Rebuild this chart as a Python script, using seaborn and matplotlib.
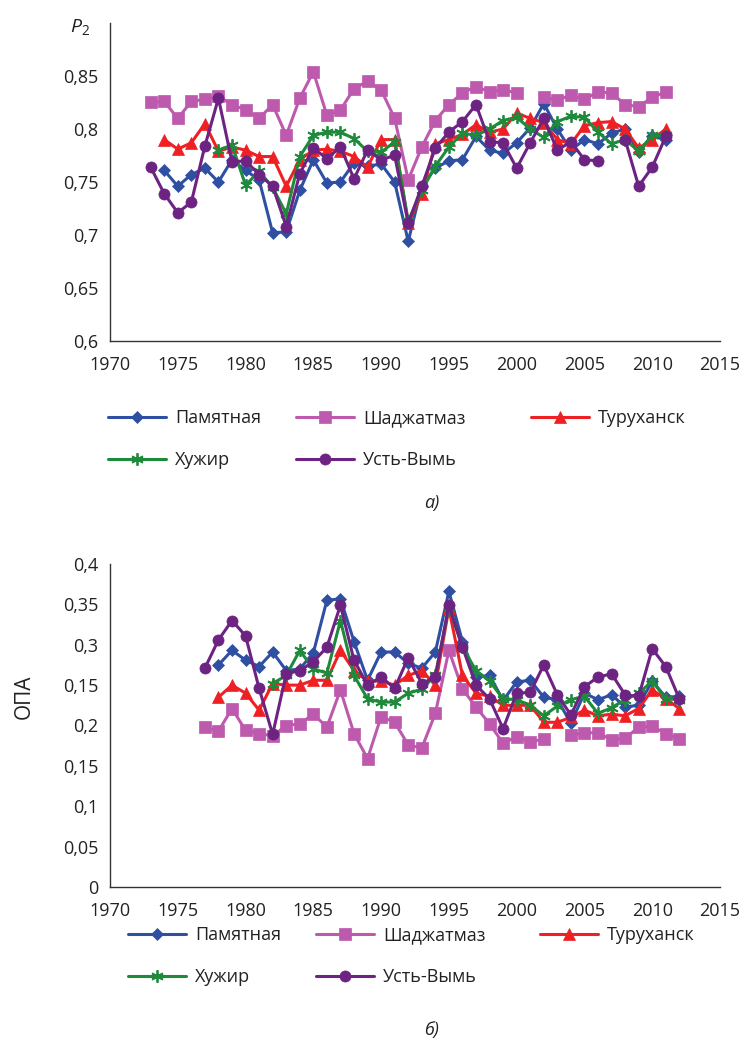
import numpy as np
import pandas as pd
import matplotlib
matplotlib.use("Agg")
import matplotlib.pyplot as plt
import seaborn as sns
from matplotlib.lines import Line2D
from matplotlib.ticker import MultipleLocator, FixedLocator, FixedFormatter

sns.set_theme(style="white")
plt.rcParams['font.family'] = ['Open Sans', 'DejaVu Sans']
plt.rcParams['mathtext.fontset'] = 'custom'
plt.rcParams['mathtext.it'] = 'Open Sans:italic'
plt.rcParams['mathtext.rm'] = 'Open Sans'

nan = np.nan
names = ["Памятная", "Шаджатмаз", "Туруханск", "Хужир", "Усть-Вымь"]

# ---------------- panel a) : P2 ----------------
years_a = list(range(1973, 2012))
pam_a = [nan, 0.761, 0.746, 0.757, 0.763, 0.750, 0.771, 0.761, 0.752, 0.702,
         0.703, 0.742, 0.771, 0.749, 0.750, 0.768, 0.765, 0.767, 0.750, 0.694,
         0.746, 0.763, 0.770, 0.771, 0.793, 0.780, 0.777, 0.787, 0.801, 0.824,
         0.800, 0.780, 0.790, 0.786, 0.796, 0.800, 0.778, 0.793, 0.790]
shad_a = [0.825, 0.826, 0.810, 0.826, 0.828, 0.831, 0.823, 0.818, 0.810, 0.823,
          0.794, 0.829, 0.854, 0.813, 0.818, 0.838, 0.845, 0.837, 0.810, 0.752,
          0.783, 0.808, 0.823, 0.834, 0.840, 0.835, 0.837, 0.834, nan, 0.830,
          0.827, 0.832, 0.828, 0.835, 0.834, 0.823, 0.821, 0.830, 0.835]
tur_a = [nan, 0.790, 0.781, 0.787, 0.805, 0.779, 0.783, 0.780, 0.774, 0.774,
         0.746, 0.771, 0.780, 0.781, 0.779, 0.774, 0.764, 0.790, 0.790, 0.711,
         0.739, 0.786, 0.790, 0.795, 0.804, 0.797, 0.800, 0.815, 0.810, 0.806,
         0.790, 0.786, 0.803, 0.806, 0.807, 0.800, 0.782, 0.790, 0.800]
khu_a = [nan, nan, nan, nan, nan, 0.780, 0.785, 0.747, 0.760, 0.745,
         0.720, 0.774, 0.794, 0.797, 0.797, 0.791, 0.779, 0.778, 0.788, 0.713,
         0.742, 0.765, 0.783, 0.796, 0.794, 0.800, 0.808, 0.811, 0.800, 0.792,
         0.807, 0.812, 0.811, 0.797, 0.786, 0.790, 0.779, 0.794, 0.794]
ust_a = [0.764, 0.739, 0.721, 0.731, 0.784, 0.829, 0.769, 0.770, 0.757, 0.746,
         0.708, 0.758, 0.782, 0.772, 0.783, 0.753, 0.780, 0.771, 0.775, 0.711,
         0.746, 0.782, 0.797, 0.807, 0.823, 0.788, 0.787, 0.763, 0.787, 0.810,
         0.780, 0.788, 0.771, 0.770, nan, 0.790, 0.746, 0.764, 0.793]

# ---------------- panel б) : ОПА ----------------
years_b = list(range(1977, 2013))
pam_b = [nan, 0.275, 0.293, 0.281, 0.273, 0.291, 0.268, 0.270, 0.290, 0.355,
         0.357, 0.304, 0.256, 0.291, 0.291, 0.277, 0.271, 0.291, 0.366, 0.304,
         0.260, 0.262, 0.231, 0.254, 0.256, 0.235, 0.232, 0.203, 0.240, 0.232,
         0.238, 0.223, 0.225, 0.255, 0.235, 0.236]
shad_b = [0.198, 0.193, 0.221, 0.194, 0.190, 0.187, 0.200, 0.202, 0.214, 0.198,
          0.244, 0.190, 0.159, 0.211, 0.204, 0.176, 0.172, 0.215, 0.293, 0.245,
          0.223, 0.202, 0.178, 0.186, 0.180, 0.183, nan, 0.188, 0.191, 0.191,
          0.182, 0.184, 0.198, 0.199, 0.190, 0.183]
tur_b = [nan, 0.235, 0.250, 0.240, 0.219, 0.252, 0.250, 0.250, 0.256, 0.256,
         0.293, 0.268, 0.255, 0.255, 0.250, 0.262, 0.268, 0.250, 0.345, 0.262,
         0.240, 0.236, 0.225, 0.225, 0.225, 0.204, 0.204, 0.210, 0.219, 0.212,
         0.214, 0.212, 0.221, 0.244, 0.233, 0.221]
khu_b = [nan, nan, nan, nan, nan, 0.252, 0.262, 0.293, 0.270, 0.265,
         0.330, 0.262, 0.233, 0.229, 0.229, 0.240, 0.245, 0.262, 0.347, 0.297,
         0.268, 0.255, 0.233, 0.232, 0.225, 0.212, 0.224, 0.232, 0.236, 0.215,
         0.222, 0.232, 0.240, 0.255, 0.233, 0.232]
ust_b = [0.271, 0.306, 0.330, 0.311, 0.246, 0.189, 0.264, 0.268, 0.279, 0.297,
         0.349, 0.281, 0.250, 0.260, 0.246, 0.284, 0.252, 0.260, 0.349, 0.297,
         0.250, 0.233, 0.196, 0.240, 0.241, 0.275, 0.238, 0.213, 0.248, 0.260,
         0.264, 0.238, 0.236, 0.295, 0.273, 0.233]

yticks_a = [0.6, 0.65, 0.7, 0.75, 0.8, 0.85, 0.9]
ytick_labels_a = ["0,6", "0,65", "0,7", "0,75", "0,8", "0,85", ""]
yticks_b = [0, 0.05, 0.1, 0.15, 0.2, 0.25, 0.3, 0.35, 0.4]
ytick_labels_b = ["0", "0,05", "0,1", "0,15", "0,2", "0,15", "0,3", "0,35", "0,4"]
xticks = [1970, 1975, 1980, 1985, 1990, 1995, 2000, 2005, 2010, 2015]

colors = {"Памятная": "#2f4fa2", "Шаджатмаз": "#bd5aae", "Туруханск": "#ee2024",
          "Хужир": "#1f8a3b", "Усть-Вымь": "#6c2382"}
marks = {"Памятная": "D", "Шаджатмаз": "s", "Туруханск": "^",
         "Хужир": (6, 2, 0), "Усть-Вымь": "o"}
msize = {"Памятная": 6, "Шаджатмаз": 8, "Туруханск": 8.5,
         "Хужир": 9, "Усть-Вымь": 8}


def long_frame(years, series):
    rows = []
    for name, vals in zip(names, series):
        seg = 0
        prev_nan = True
        for y, v in zip(years, vals):
            if np.isnan(v):
                prev_nan = True
                continue
            if prev_nan:
                seg += 1
                prev_nan = False
            rows.append({"year": y, "value": v, "site": name, "seg": seg})
    return pd.DataFrame(rows)


def draw(ax, df):
    for name in names:
        sub = df[df["site"] == name]
        c = colors[name]
        sns.lineplot(data=sub, x="year", y="value", units="seg", estimator=None,
                     ax=ax, color=c, linewidth=2.2, marker=marks[name],
                     markersize=msize[name], markeredgecolor=c,
                     markerfacecolor=c,
                     markeredgewidth=1.3 if name == "Хужир" else 0.5,
                     legend=False)


def style_axes(ax, ylim, yticks, ylabels):
    ax.set_xlim(1970, 2015)
    ax.set_ylim(*ylim)
    ax.xaxis.set_major_locator(FixedLocator(xticks))
    ax.xaxis.set_minor_locator(MultipleLocator(1))
    ax.yaxis.set_major_locator(FixedLocator(yticks))
    ax.yaxis.set_major_formatter(FixedFormatter(ylabels))
    ax.yaxis.set_minor_locator(MultipleLocator(0.01))
    ax.set_xticklabels([str(x) for x in xticks])
    for s in ["top", "right"]:
        ax.spines[s].set_visible(False)
    for s in ["left", "bottom"]:
        ax.spines[s].set_color("#333333")
        ax.spines[s].set_linewidth(1.0)
    ax.tick_params(which="major", direction="inout", length=9, width=1.0,
                   color="#333333", labelsize=13, labelcolor="#222222", pad=4)
    ax.tick_params(which="minor", direction="in", length=4, width=0.8,
                   color="#333333")
    ax.tick_params(axis="x", which="major", pad=6)
    ax.set_xlabel("")
    ax.set_ylabel("")


def legend_cols(fig, anchors_x, y_top):
    handles = {n: Line2D([], [], color=colors[n], linewidth=2.2, marker=marks[n],
                         markersize=msize[n], markeredgecolor=colors[n],
                         markerfacecolor=colors[n],
                         markeredgewidth=1.3 if n == "Хужир" else 0.5)
               for n in names}
    cols = [["Памятная", "Хужир"], ["Шаджатмаз", "Усть-Вымь"], ["Туруханск"]]
    for xa, col in zip(anchors_x, cols):
        leg = fig.legend([handles[n] for n in col], col, loc="upper left",
                         bbox_to_anchor=(xa / 748, 1 - y_top / 1052),
                         frameon=False, fontsize=13, handlelength=3.2,
                         handletextpad=0.5, labelspacing=1.35, borderpad=0,
                         borderaxespad=0)
        for t in leg.get_texts():
            t.set_color("#222222")


fig = plt.figure(figsize=(7.48, 10.52), dpi=100)

ax1 = fig.add_axes([110 / 748, (1052 - 341) / 1052, 610 / 748, 318 / 1052])
draw(ax1, long_frame(years_a, [pam_a, shad_a, tur_a, khu_a, ust_a]))
style_axes(ax1, (0.6, 0.9), yticks_a, ytick_labels_a)
fig.text(80 / 748, 1 - 27 / 1052, r"$\mathit{P}_2$", fontsize=14,
         ha="center", va="center", color="#222222")

ax2 = fig.add_axes([110 / 748, (1052 - 887) / 1052, 610 / 748, 323 / 1052])
draw(ax2, long_frame(years_b, [pam_b, shad_b, tur_b, khu_b, ust_b]))
style_axes(ax2, (0, 0.4), yticks_b, ytick_labels_b)
fig.text(24 / 748, 1 - 697 / 1052, "ОПА", rotation=90, fontsize=15,
         ha="center", va="center", color="#222222")

legend_cols(fig, [108, 296, 531], 409)
legend_cols(fig, [128, 316, 540], 926)

fig.text(432 / 748, 1 - 503 / 1052, "а)", fontsize=13, style="italic",
         ha="center", va="center", color="#222222")
fig.text(432 / 748, 1 - 1030 / 1052, "б)", fontsize=13, style="italic",
         ha="center", va="center", color="#222222")

fig.savefig("out.png", dpi=100)
